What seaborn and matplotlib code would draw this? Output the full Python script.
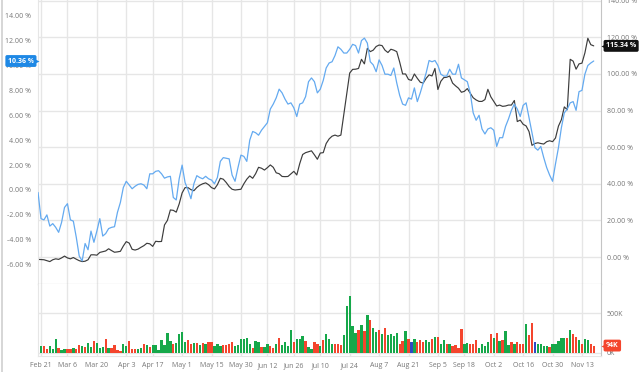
import matplotlib
matplotlib.use("Agg")
import matplotlib.pyplot as plt
import matplotlib.transforms as mtransforms
from matplotlib.lines import Line2D
import seaborn as sns
import pandas as pd
import numpy as np

START = "2023-02-17"
HOLIDAYS = ["2023-02-20", "2023-04-07", "2023-05-29", "2023-06-19", "2023-07-04", "2023-09-04"]
TICK_LABELS = ["Feb 21", "Mar 6", "Mar 20", "Apr 3", "Apr 17", "May 1", "May 15", "May 30",
               "Jun 12", "Jun 26", "Jul 10", "Jul 24", "Aug 7", "Aug 21", "Sep 5", "Sep 18",
               "Oct 2", "Oct 16", "Oct 30", "Nov 13"]
LEFT_TICKS = [-6, -4, -2, 0, 2, 4, 6, 8, 10, 12, 14]
RIGHT_TICKS = [0, 20, 40, 60, 80, 100, 120, 140]
VOL_TICKS = [0, 500]
VOL_TICK_LABELS = ["0K", "500K"]

# blue series, left axis (%)
BLUE = [-0.2, -2.3, -2.4, -2.0, -2.9, -2.7, -3.0, -3.4, -2.6, -1.4,
        -1.1, -2.4, -2.5, -3.8, -5.3, -5.7, -4.3, -4.8, -3.3, -4.2,
        -3.3, -2.3, -3.7, -3.5, -3.1, -3.0, -2.95, -1.8, -1.0, 0.2,
        0.7, 0.4, 0.1, 0.3, 0.45, 0.5, 0.4, 0.1, 1.3, 1.3,
        1.5, 1.55, 1.3, 0.95, 1.05, 1.1, -0.6, -0.8, 0.9, 2.0,
        0.6, 0.0, -0.7, 0.5, 1.15, 1.0, 0.9, 1.1, 0.9, 0.8,
        0.5, 1.0, 2.3, 2.6, 2.55, 2.5, 1.2, 0.7, 1.8, 2.8,
        2.7, 2.3, 4.0, 4.7, 4.6, 4.4, 4.8, 5.1, 5.4, 6.5,
        6.9, 7.4, 8.1, 7.8, 7.3, 6.9, 7.0, 6.6, 5.9, 6.9,
        7.0, 7.5, 8.7, 9.0, 8.7, 7.8, 8.1, 8.8, 9.8, 10.2,
        10.3, 10.8, 11.5, 11.3, 11.0, 11.0, 11.3, 11.7, 11.6, 11.0,
        12.0, 12.2, 11.8, 10.3, 10.05, 9.5, 10.45, 10.0, 9.3, 9.3,
        9.2, 9.8, 8.6, 7.6, 6.9, 6.8, 7.4, 7.3, 8.2, 7.1,
        7.8, 8.6, 9.4, 10.4, 10.3, 10.4, 10.0, 9.3, 9.15, 9.15,
        9.7, 9.3, 9.3, 10.1, 9.0, 8.85, 8.7, 7.8, 6.2, 5.6,
        6.0, 4.9, 4.5, 4.9, 5.0, 4.8, 3.5, 4.2, 4.2, 5.1,
        5.7, 6.4, 6.9, 6.5, 5.9, 6.8, 7.0, 5.8, 4.6, 3.4,
        3.2, 3.5, 2.6, 1.8, 1.2, 0.7, 2.1, 3.4, 5.0, 6.2,
        6.5, 7.0, 7.1, 6.4, 7.9, 8.0, 9.3, 10.0, 10.2, 10.36]

# black series, right axis (%)
BLACK = [-1.3, -1.4, -1.5, -2.0, -2.5, -1.5, -1.0, -1.3, -0.5, 0.5,
         -0.5, -1.0, -0.3, -1.2, -2.0, -2.5, -2.3, -1.5, 1.2, 1.2,
         1.0, 2.5, 2.9, 3.3, 4.5, 3.5, 2.6, 2.8, 3.1, 6.0,
         8.4, 7.6, 4.2, 3.8, 4.3, 5.3, 6.2, 7.5, 7.2, 5.8,
         8.6, 8.4, 8.5, 17.5, 20.0, 25.7, 25.5, 24.5, 29.0, 35.0,
         37.9, 37.9, 36.8, 36.2, 38.0, 39.2, 40.0, 40.5, 39.5, 37.9,
         37.2, 39.5, 43.0, 42.5, 40.7, 38.5, 37.0, 36.6, 36.8, 37.0,
         40.0, 42.5, 44.3, 43.0, 45.5, 49.0, 48.5, 47.5, 48.8, 50.3,
         49.0, 46.0, 45.5, 44.0, 43.9, 44.0, 45.4, 46.8, 44.8, 51.0,
         56.0, 57.0, 57.5, 58.0, 55.8, 53.4, 56.8, 57.0, 62.0, 64.5,
         66.0, 66.6, 66.0, 66.6, 78.0, 89.0, 100.5, 102.5, 102.6, 103.0,
         108.0, 105.5, 114.0, 112.2, 113.0, 115.0, 115.8, 115.5, 113.0, 111.7,
         113.5, 113.0, 112.2, 106.5, 100.0, 100.0, 97.0, 96.5, 100.0, 97.6,
         95.5, 95.0, 97.6, 99.5, 98.9, 103.0, 91.5, 96.0, 98.0, 98.2,
         98.9, 95.0, 93.5, 92.2, 90.0, 90.5, 92.0, 89.5, 87.0, 85.8,
         85.0, 85.0, 86.0, 91.6, 87.5, 85.0, 82.5, 83.0, 82.3, 82.5,
         83.0, 83.0, 85.5, 74.0, 74.8, 72.5, 71.6, 68.5, 61.0, 62.0,
         62.4, 62.0, 61.7, 63.0, 63.5, 63.0, 65.0, 71.5, 75.0, 82.0,
         80.4, 108.0, 107.0, 102.6, 105.5, 105.9, 111.5, 119.5, 116.0, 115.34]

# daily volume (K) and direction: u = up, d = down, f = flat
VOLUME = [84, 84, 84, 55, 88, 55, 181, 67, 42, 50,
          46, 46, 67, 46, 97, 88, 72, 122, 72, 147,
          122, 67, 72, 177, 67, 63, 105, 38, 25, 109,
          88, 152, 46, 46, 50, 63, 109, 105, 76, 97,
          97, 42, 168, 105, 257, 147, 118, 126, 244, 265,
          139, 164, 109, 122, 126, 97, 122, 109, 135, 139,
          93, 118, 93, 105, 97, 118, 139, 88, 105, 181,
          181, 189, 118, 67, 147, 139, 76, 76, 118, 88,
          67, 118, 189, 97, 139, 88, 295, 135, 181, 181,
          210, 152, 76, 55, 139, 118, 84, 160, 236, 173,
          109, 109, 109, 97, 223, 589, 716, 341, 253, 286,
          349, 278, 476, 421, 320, 265, 286, 244, 320, 223,
          244, 210, 253, 118, 152, 277, 173, 139, 181, 139,
          160, 139, 160, 139, 181, 202, 202, 118, 168, 109,
          109, 84, 97, 67, 307, 109, 130, 109, 109, 160,
          67, 109, 88, 139, 244, 194, 257, 147, 160, 278,
          97, 139, 118, 139, 118, 118, 362, 223, 379, 139,
          109, 109, 93, 93, 76, 109, 118, 147, 194, 194,
          194, 295, 236, 202, 168, 118, 181, 160, 118, 94]
VOL_DIR = ("dudduuuduu" "ddudduduud" "uuududdddu" "uddduududu" "uuuuuuduuu"
           "uddudududd" "uuudddduuu" "uuuduuduud" "duduuuuduu" "uduudduduu"
           "uddduuuuud" "ududuududu" "uuuddudfud" "dduududuud" "udddduuddd"
           "uuuudududu" "ududdduddf" "uuuuduuuuu" "dudduduudd")

BLUE_C = "#64aaf0"
BLACK_C = "#3c3c3c"
GRID_C = "#e6e6e6"
TXT_C = "#777777"
VOL_PAL = {"u": "#16a84a", "d": "#f4452d", "f": "#2f49c4"}

sns.set_style("white")
plt.rcParams["font.family"] = ["Open Sans", "DejaVu Sans"]

n = len(BLACK)
idx = np.arange(n)
dates = pd.bdate_range(START, periods=n, freq="C", holidays=HOLIDAYS)
date_txt = [f"{d:%b} {d.day}" for d in dates]
tick_pos = [date_txt.index(t) for t in TICK_LABELS]

W, H = 640, 372
X0, X1 = 38.06, 601
XMAX = (X1 - X0) / 2.94
fig = plt.figure(figsize=(W / 100, H / 100), dpi=100)
ax = fig.add_axes([X0 / W, (H - 284) / H, (X1 - X0) / W, 284 / H])
axv = fig.add_axes([X0 / W, (H - 356) / H, (X1 - X0) / W, 72 / H])
axb = ax.twinx()

# price lines
sns.lineplot(x=idx, y=BLACK, ax=ax, color=BLACK_C, linewidth=0.85, estimator=None)
sns.lineplot(x=idx, y=BLUE, ax=axb, color=BLUE_C, linewidth=0.9, estimator=None)

ax.set_xlim(0, XMAX)
ax.set_ylim(-14.75, 140.4)
axb.set_ylim(-7.55, 15.26)

ax.yaxis.tick_right()
ax.set_yticks(RIGHT_TICKS)
ax.set_yticklabels([f"{v:.2f} %" for v in RIGHT_TICKS])
ax.tick_params(axis="y", length=0, pad=4.3, labelsize=5, labelcolor=TXT_C)
ax.set_xticks(tick_pos)
ax.tick_params(axis="x", length=0, labelbottom=False)
ax.grid(True, color=GRID_C, linewidth=1)
ax.spines["top"].set_visible(False)
ax.spines["left"].set_color(GRID_C)
ax.spines["right"].set_color("#c4c4c4")
ax.spines["bottom"].set_color("#a8a8a8")
ax.set_xlabel("")
ax.set_ylabel("")

axb.yaxis.tick_left()
axb.set_yticks(LEFT_TICKS)
axb.set_yticklabels([f"{v:.2f} %" for v in LEFT_TICKS])
axb.tick_params(axis="y", length=0, pad=5, labelsize=5, labelcolor=TXT_C)
axb.grid(False)
for s in axb.spines.values():
    s.set_visible(False)
axb.set_ylabel("")

# volume: one category per trading day, each bar coloured by its direction
vol = pd.DataFrame({"i": idx, "vol": VOLUME, "key": [str(i) for i in idx]})
bar_pal = {str(i): VOL_PAL[c] for i, c in zip(idx, VOL_DIR)}
sns.barplot(data=vol, x="i", y="vol", hue="key", palette=bar_pal,
            dodge=False, width=0.8, saturation=1, errorbar=None, legend=False,
            orient="x", linewidth=0, ax=axv)
axv.set_xlim(0, XMAX)
axv.set_ylim(-38, 873)
axv.yaxis.tick_right()
axv.set_yticks(VOL_TICKS)
axv.set_yticklabels(VOL_TICK_LABELS)
axv.tick_params(axis="y", length=0, pad=4.3, labelsize=5, labelcolor=TXT_C)
axv.set_xticks(tick_pos)
axv.set_xticklabels(TICK_LABELS)
axv.tick_params(axis="x", length=2.5, color=GRID_C, pad=2, labelsize=5, labelcolor=TXT_C)
axv.grid(True, color=GRID_C, linewidth=1)
axv.set_axisbelow(True)
axv.spines["top"].set_visible(False)
axv.spines["left"].set_color(GRID_C)
axv.spines["bottom"].set_color(GRID_C)
axv.spines["right"].set_color("#c4c4c4")
axv.set_xlabel("")
axv.set_ylabel("")


def badge(a, y, text, color, side):
    tr = mtransforms.blended_transform_factory(a.transAxes, a.transData)
    box = dict(boxstyle="round,pad=0.35,rounding_size=0.25", fc=color, ec="none")
    if side == "right":
        a.annotate(text, xy=(1, y), xycoords=tr, xytext=(5, 0), textcoords="offset pixels",
                   ha="left", va="center", color="white", fontweight="bold", fontsize=5,
                   bbox=box, annotation_clip=False, zorder=10)
        mk, dx, x = "<", 3, 1
    else:
        a.annotate(text, xy=(0, y), xycoords=tr, xytext=(-4, 0), textcoords="offset pixels",
                   ha="right", va="center", color="white", fontweight="bold", fontsize=5,
                   bbox=box, annotation_clip=False, zorder=10)
        mk, dx, x = ">", -2, 0
    off = mtransforms.ScaledTranslation(dx / 100, 0, fig.dpi_scale_trans)
    a.plot([x], [y], marker=mk, ms=4, color=color, mec="none", transform=tr + off,
           clip_on=False, zorder=10)


badge(ax, BLACK[-1], f"{BLACK[-1]:.2f} %", "#111111", "right")
badge(axb, BLUE[-1], f"{BLUE[-1]:.2f} %", "#1e88e5", "left")
badge(axv, VOLUME[-1], f"{VOLUME[-1]}K", "#f4452d", "right")

fig.add_artist(Line2D([1.5 / W, 1.5 / W], [0, 1], color="#d0d0d0", linewidth=1.2))

fig.savefig("out.png", dpi=100)
